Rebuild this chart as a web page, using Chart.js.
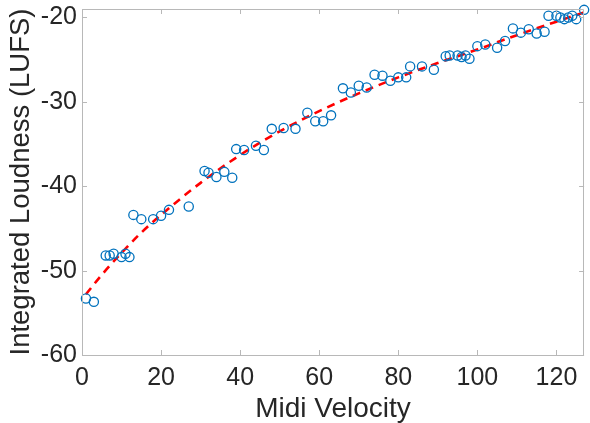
<!DOCTYPE html>
<html>
<head>
<meta charset="utf-8">
<script src="https://cdn.jsdelivr.net/npm/chart.js@4"></script>
<style>
  html, body { margin: 0; padding: 0; background: #ffffff; }
  #wrap { width: 590px; height: 423px; }
</style>
</head>
<body>
<div id="wrap"><canvas id="c" width="590" height="423"></canvas></div>
<script>
const velocity = [1,3,6,7,8,10,11,12,13,15,18,20,22,27,31,32,34,36,38,39,41,44,46,48,51,54,57,59,61,63,66,68,70,72,74,76,78,80,82,83,86,89,92,93,95,96,97,98,100,102,105,107,109,111,113,115,117,118,120,121,122,123,124,125,127];
const loudness = [-53.3,-53.7,-48.2,-48.2,-48.0,-48.4,-48.0,-48.4,-43.4,-43.9,-43.9,-43.5,-42.8,-42.4,-38.2,-38.4,-38.9,-38.3,-39.0,-35.6,-35.7,-35.2,-35.7,-33.2,-33.1,-33.2,-31.3,-32.3,-32.3,-31.6,-28.4,-28.9,-28.1,-28.3,-26.8,-26.9,-27.5,-27.1,-27.1,-25.8,-25.8,-26.2,-24.6,-24.5,-24.5,-24.7,-24.5,-24.9,-23.4,-23.2,-23.6,-22.8,-21.3,-21.8,-21.4,-21.9,-21.7,-19.8,-19.8,-20.0,-20.2,-20.0,-19.8,-20.2,-19.1];

// Fitted curve
const fitVelocity = [1,5,10,15,20,30,40,50,60,70,80,90,100,110,120,127];
const fitLoudness = [-52.8,-50.5,-47.9,-45.5,-43.4,-39.6,-36.3,-33.5,-31.1,-29.0,-27.1,-25.4,-23.8,-22.1,-20.5,-19.4];

const xTicks = [0,20,40,60,80,100,120];
const yTicks = [-60,-50,-40,-30,-20];

const FONT = "'Liberation Sans', Arial, Helvetica, sans-serif";
const TEXT = '#262626';
const AXIS = '#b8b8b8';

const boxPlugin = {
  id: 'boxTicks',
  afterDraw(chart) {
    const {ctx, chartArea: a, scales: {x, y}} = chart;
    ctx.save();
    ctx.strokeStyle = AXIS;
    ctx.lineWidth = 1;
    ctx.beginPath();
    ctx.rect(Math.round(a.left) + 0.5, Math.round(a.top) + 0.5,
             Math.round(a.right - a.left) - 1, Math.round(a.bottom - a.top));
    ctx.stroke();
    const L = 5;
    ctx.beginPath();
    xTicks.forEach(v => {
      const px = Math.round(x.getPixelForValue(v)) + 0.5;
      ctx.moveTo(px, a.bottom); ctx.lineTo(px, a.bottom - L);
      ctx.moveTo(px, a.top); ctx.lineTo(px, a.top + L);
    });
    yTicks.forEach(v => {
      const py = Math.round(y.getPixelForValue(v)) + 0.5;
      ctx.moveTo(a.left, py); ctx.lineTo(a.left + L, py);
      ctx.moveTo(a.right, py); ctx.lineTo(a.right - L, py);
    });
    ctx.stroke();
    ctx.restore();
  }
};

new Chart(document.getElementById('c'), {
  type: 'scatter',
  data: {
    datasets: [
      {
        label: 'Measured',
        data: velocity.map((v, i) => ({x: v, y: loudness[i]})),
        showLine: false,
        pointStyle: 'circle',
        pointRadius: 4.6,
        pointHoverRadius: 4.6,
        pointBorderWidth: 1.3,
        borderColor: '#0072BD',
        backgroundColor: 'rgba(0,0,0,0)',
        clip: false,
        order: 1
      },
      {
        label: 'Fit',
        data: fitVelocity.map((v, i) => ({x: v, y: fitLoudness[i]})),
        showLine: true,
        pointRadius: 0,
        borderColor: '#ff0000',
        borderWidth: 2.6,
        borderDash: [8, 6],
        cubicInterpolationMode: 'monotone',
        fill: false,
        order: 2
      }
    ]
  },
  options: {
    responsive: false,
    animation: false,
    events: [],
    layout: { padding: { top: 9, right: 2, bottom: 0, left: 0 } },
    plugins: { legend: { display: false }, tooltip: { enabled: false } },
    scales: {
      x: {
        type: 'linear',
        min: 0, max: 127,
        afterBuildTicks: s => { s.ticks = xTicks.map(v => ({value: v})); },
        afterFit: s => { s.height = 68; s.paddingLeft = 0; s.paddingRight = 0; },
        grid: { display: false, drawTicks: false },
        border: { display: false },
        ticks: { color: TEXT, font: { family: FONT, size: 25 }, padding: 8, maxRotation: 0, autoSkip: false },
        title: { display: true, text: 'Midi Velocity', color: TEXT,
                 font: { family: FONT, size: 28, lineHeight: 1 }, padding: { top: 0, bottom: 0 } }
      },
      y: {
        type: 'linear',
        min: -60, max: -19,
        afterBuildTicks: s => { s.ticks = yTicks.map(v => ({value: v})); },
        afterFit: s => { s.width = 82; s.paddingTop = 0; s.paddingBottom = 0; },
        grid: { display: false, drawTicks: false },
        border: { display: false },
        ticks: { color: TEXT, font: { family: FONT, size: 25 }, padding: 5, autoSkip: false },
        title: { display: true, text: 'Integrated Loudness (LUFS)', color: TEXT,
                 font: { family: FONT, size: 27.5, lineHeight: 1 }, padding: { top: 8, bottom: 0 } }
      }
    }
  },
  plugins: [boxPlugin]
});
</script>
</body>
</html>
